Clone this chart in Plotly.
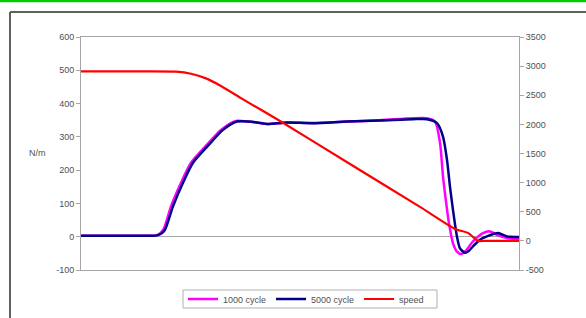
import plotly.graph_objects as go

# time axis (arbitrary sample units)
t_1000 = [0, 40, 70, 75, 79, 83, 90, 100, 110, 124, 140, 155, 169, 186, 206, 232, 266, 299, 332, 346, 354, 359, 362, 364, 368, 372, 376, 380, 385, 392, 402, 409, 416, 426, 438]
v_1000 = [3, 3, 3, 4, 10, 25, 91, 162, 222, 270, 321, 348, 345, 339, 343, 342, 346, 350, 356, 356, 346, 282, 181, 130, 40, -20, -45, -52, -42, -14, 11, 16, 6, -4, -7]

t_5000 = [0, 40, 71, 76, 80, 84, 92, 102, 112, 126, 142, 156, 169, 186, 206, 232, 266, 299, 332, 346, 356, 362, 366, 369, 372, 376, 379, 384, 388, 392, 399, 406, 417, 426, 438]
v_5000 = [3, 3, 3, 4, 9, 21, 91, 162, 222, 270, 321, 346, 346, 339, 343, 341, 346, 349, 353, 353, 341, 301, 231, 150, 80, 0, -35, -48, -42, -29, -9, 1, 11, 1, -1]

t_speed = [0, 60, 95, 110, 125, 140, 160, 199, 269, 339, 374, 387, 397, 404, 420, 438]
v_speed = [2910, 2910, 2905, 2870, 2790, 2660, 2450, 2059, 1320, 583, 206, 137, 0, 0, 0, 0]

left_ticks = [-100, 0, 100, 200, 300, 400, 500, 600]
left_labels = ["-100", "0", "100", "200", "300", "400", "500", "600"]
right_ticks = [-500, 0, 500, 1000, 1500, 2000, 2500, 3000, 3500]
right_labels = ["-500", "0", "500", "1000", "1500", "2000", "2500", "3000", "3500"]

fig = go.Figure()
fig.add_trace(go.Scatter(x=t_1000, y=v_1000, name="1000 cycle", mode="lines",
                         line=dict(color="#FF00FF", width=2.5, shape="spline", smoothing=0.7)))
fig.add_trace(go.Scatter(x=t_5000, y=v_5000, name="5000 cycle", mode="lines",
                         line=dict(color="#00008B", width=2.5, shape="spline", smoothing=0.7)))
fig.add_trace(go.Scatter(x=t_speed, y=v_speed, name="speed", mode="lines", yaxis="y2",
                         line=dict(color="#FF0000", width=2.2, shape="spline", smoothing=0.6)))

axis_font = dict(family="Liberation Sans, Arial, sans-serif", size=9, color="#505050")

PW, PH = 438, 233  # plot area size in px (for paper-coordinate decorations)

def px(x):
    return (x - 81) / PW

def py(y):
    return (270 - y) / PH

fig.update_layout(
    width=586, height=318,
    margin=dict(l=81, r=67, t=37, b=48, autoexpand=False),
    paper_bgcolor="white", plot_bgcolor="white",
    showlegend=True,
    legend=dict(orientation="h", x=px(183), y=1 - 299 / 318, xref="paper", yref="container",
                xanchor="left", yanchor="middle",
                borderwidth=0, bgcolor="rgba(0,0,0,0)", font=axis_font,
                itemwidth=30, tracegroupgap=0),
    xaxis=dict(range=[0, 438], showticklabels=False, ticks="", showgrid=False,
               zeroline=False, showline=True, linecolor="#A6A6A6", linewidth=1, mirror=True),
    yaxis=dict(range=[-100, 600], tickvals=left_ticks, ticktext=left_labels, ticks="outside",
               ticklen=4, tickcolor="#A6A6A6", showgrid=False, zeroline=True,
               zerolinecolor="#A6A6A6", zerolinewidth=1, showline=True, linecolor="#A6A6A6",
               linewidth=1, tickfont=axis_font),
    yaxis2=dict(range=[-500, 3500], tickvals=right_ticks, ticktext=right_labels,
                overlaying="y", side="right", ticks="outside", ticklen=4, tickcolor="#A6A6A6",
                showgrid=False, zeroline=False, showline=True, linecolor="#A6A6A6", linewidth=1,
                tickfont=axis_font),
    annotations=[dict(text="N/m", xref="paper", yref="paper", x=px(37), y=py(153),
                      showarrow=False, font=axis_font, xanchor="center", yanchor="middle")],
    shapes=[
        # legend border
        dict(type="rect", xref="paper", yref="paper", x0=px(183), x1=px(437),
             y0=py(290), y1=py(308), line=dict(color="#B0B0B0", width=1), layer="below"),
        # outer frame (left and top edges)
        dict(type="line", xref="paper", yref="paper", x0=px(10), x1=px(10), y0=py(12), y1=py(330),
             line=dict(color="#606060", width=2)),
        dict(type="line", xref="paper", yref="paper", x0=px(10), x1=px(600), y0=py(12), y1=py(12),
             line=dict(color="#606060", width=2)),
        # green top line
        dict(type="line", xref="paper", yref="paper", x0=px(-10), x1=px(600), y0=py(1), y1=py(1),
             line=dict(color="#00CC00", width=2.5)),
    ],
)

fig.write_html("out.html", config={"displayModeBar": False},
               post_script="document.body.style.margin='0';document.body.style.padding='0';")
